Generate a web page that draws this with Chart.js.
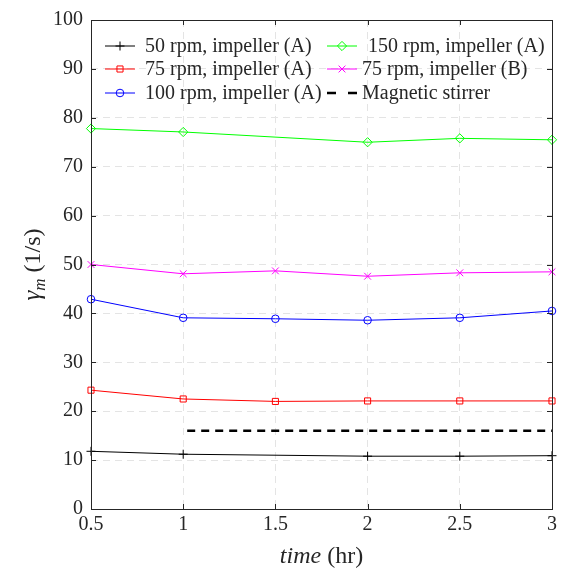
<!DOCTYPE html>
<html><head><meta charset="utf-8">
<script src="https://cdn.jsdelivr.net/npm/chart.js@4/dist/chart.umd.min.js"></script>
<style>html,body{margin:0;padding:0;background:#fff;}</style>
</head><body>
<canvas id="c" width="561" height="575"></canvas>
<script>
// ---- data ----
const timeAll = [0.5, 1, 1.5, 2, 2.5, 3];
const timeNo15 = [0.5, 1, 2, 2.5, 3];
const rpm50A  = [11.8, 11.2, 10.8, 10.8, 10.9];
const rpm75A  = [24.3, 22.5, 22.0, 22.1, 22.1, 22.1];
const rpm100A = [42.9, 39.1, 38.9, 38.6, 39.1, 40.5];
const rpm150A = [77.8, 77.1, 75.0, 75.8, 75.5];
const rpm75B  = [50.0, 48.1, 48.7, 47.6, 48.3, 48.5];
const magTime = [1, 3];
const magStirrer = [16.0, 16.0];
const xTicks = [0.5, 1, 1.5, 2, 2.5, 3];
const yTicks = [0, 10, 20, 30, 40, 50, 60, 70, 80, 90, 100];
const labels = ['50 rpm, impeller (A)', '75 rpm, impeller (A)', '100 rpm, impeller (A)',
                '150 rpm, impeller (A)', '75 rpm, impeller (B)', 'Magnetic stirrer'];

const FONT = '"Liberation Serif", "Times New Roman", serif';
const AX = '#262626';
const pts = (xs, ys) => xs.map((x, i) => ({x: x, y: ys[i]}));

function ds(label, xs, ys, color, style, r, extra) {
  return Object.assign({
    label: label, data: pts(xs, ys), borderColor: color, backgroundColor: 'rgba(0,0,0,0)',
    borderWidth: 1, pointStyle: style, pointRadius: r, pointHoverRadius: r,
    pointBorderColor: color, pointBackgroundColor: 'rgba(0,0,0,0)', pointBorderWidth: 1,
    tension: 0, clip: false
  }, extra || {});
}

const datasets = [
  ds(labels[0], timeNo15, rpm50A, '#000000', 'cross', 4.5),
  ds(labels[1], timeAll, rpm75A, '#ff0000', 'rect', 4.3),
  ds(labels[2], timeAll, rpm100A, '#0000ff', 'circle', 3.8),
  ds(labels[3], timeNo15, rpm150A, '#00ff00', 'rectRot', 4.6),
  ds(labels[4], timeAll, rpm75B, '#ff00ff', 'crossRot', 4.8),
  ds(labels[5], magTime, magStirrer, '#000000', false, 0, {borderWidth: 2.6, borderDash: [8, 6], borderDashOffset: -4, pointRadius: 0})
];

const frame = {
  id: 'frame',
  afterDatasetsDraw(chart) {
    const ctx = chart.ctx, a = chart.chartArea;
    const xs = chart.scales.x, ys = chart.scales.y;
    ctx.save();
    ctx.strokeStyle = AX; ctx.lineWidth = 1; ctx.setLineDash([]);
    ctx.strokeRect(a.left + 0.5, a.top + 0.5, a.right - a.left, a.bottom - a.top);
    const tl = 5;
    ctx.beginPath();
    xTicks.forEach(v => {
      const px = Math.round(xs.getPixelForValue(v)) + 0.5;
      ctx.moveTo(px, a.bottom); ctx.lineTo(px, a.bottom - tl);
      ctx.moveTo(px, a.top); ctx.lineTo(px, a.top + tl);
    });
    yTicks.forEach(v => {
      const py = Math.round(ys.getPixelForValue(v)) + 0.5;
      ctx.moveTo(a.left, py); ctx.lineTo(a.left + tl, py);
      ctx.moveTo(a.right, py); ctx.lineTo(a.right - tl, py);
    });
    ctx.stroke();

    // axis titles
    ctx.fillStyle = AX;
    ctx.textBaseline = 'alphabetic';
    const TS = 24;
    // x title
    ctx.font = 'italic ' + TS + 'px ' + FONT;
    const w1 = ctx.measureText('time').width;
    ctx.font = TS + 'px ' + FONT;
    const w2 = ctx.measureText(' (hr)').width;
    const cx = (a.left + a.right) / 2;
    let sx = cx - (w1 + w2) / 2;
    ctx.font = 'italic ' + TS + 'px ' + FONT; ctx.textAlign = 'left';
    ctx.fillText('time', sx, 563);
    ctx.font = TS + 'px ' + FONT;
    ctx.fillText(' (hr)', sx + w1, 563);
    // y title
    ctx.save();
    ctx.translate(40, (a.top + a.bottom) / 2);
    ctx.rotate(-Math.PI / 2);
    ctx.font = 'italic 25px ' + FONT;
    const g = ctx.measureText('\u03b3').width;
    ctx.font = 'italic 17px ' + FONT;
    const m = ctx.measureText('m').width;
    ctx.font = TS + 'px ' + FONT;
    const rest = ctx.measureText(' (1/s)').width;
    let yx = -(g + m + rest) / 2;
    ctx.font = 'italic 25px ' + FONT;
    ctx.fillText('\u03b3', yx, 0);
    ctx.font = 'italic 17px ' + FONT;
    ctx.fillText('m', yx + g, 5);
    ctx.font = TS + 'px ' + FONT;
    ctx.fillText(' (1/s)', yx + g + m, 0);
    ctx.restore();

    // legend (2 columns, column-major)
    const cols = [{l0: 105, l1: 135, tx: 145}, {l0: 327, l1: 357, tx: 362}];
    const rows = [46, 69, 93];
    ctx.font = '20px ' + FONT; ctx.textBaseline = 'middle'; ctx.textAlign = 'left';
    chart.data.datasets.forEach((d, i) => {
      const c = cols[Math.floor(i / 3)], y = rows[i % 3];
      ctx.save();
      ctx.strokeStyle = d.borderColor; ctx.lineWidth = d.borderWidth;
      ctx.setLineDash(d.borderDash ? [9, 12] : []);
      ctx.beginPath(); ctx.moveTo(c.l0, y); ctx.lineTo(c.l1, y); ctx.stroke();
      ctx.setLineDash([]);
      if (d.pointStyle) {
        ctx.strokeStyle = d.pointBorderColor; ctx.fillStyle = 'rgba(0,0,0,0)';
        Chart.helpers.drawPoint(ctx, {pointStyle: d.pointStyle, radius: d.pointRadius, borderWidth: 1, rotation: 0}, (c.l0 + c.l1) / 2, y);
      }
      ctx.restore();
      ctx.fillStyle = AX;
      ctx.fillText(d.label, c.tx + (i === 3 ? 6 : 0), y + 1);
    });
    ctx.restore();
  }
};

new Chart(document.getElementById('c'), {
  type: 'line',
  data: {datasets: datasets},
  options: {
    responsive: false, animation: false, devicePixelRatio: 1,
    layout: {padding: {left: 0, right: 8, top: 16, bottom: 0}},
    plugins: {legend: {display: false}, tooltip: {enabled: false}},
    scales: {
      x: {
        type: 'linear', min: 0.5, max: 3,
        afterBuildTicks: s => { s.ticks = xTicks.map(v => ({value: v})); },
        afterFit: s => { s.height = 66; },
        ticks: {color: AX, font: {family: FONT, size: 20}, padding: 4, maxRotation: 0,
                callback: v => String(v)},
        grid: {color: '#e4e4e4', lineWidth: 1, drawTicks: false},
        border: {display: false, dash: [7, 5]}
      },
      y: {
        type: 'linear', min: 0, max: 100,
        afterBuildTicks: s => { s.ticks = yTicks.map(v => ({value: v})); },
        afterFit: s => { s.width = 91; },
        ticks: {color: AX, font: {family: FONT, size: 20}, padding: 8, callback: v => String(v)},
        grid: {color: '#e4e4e4', lineWidth: 1, drawTicks: false},
        border: {display: false, dash: [7, 5]}
      }
    }
  },
  plugins: [frame]
});
</script>
</body></html>
